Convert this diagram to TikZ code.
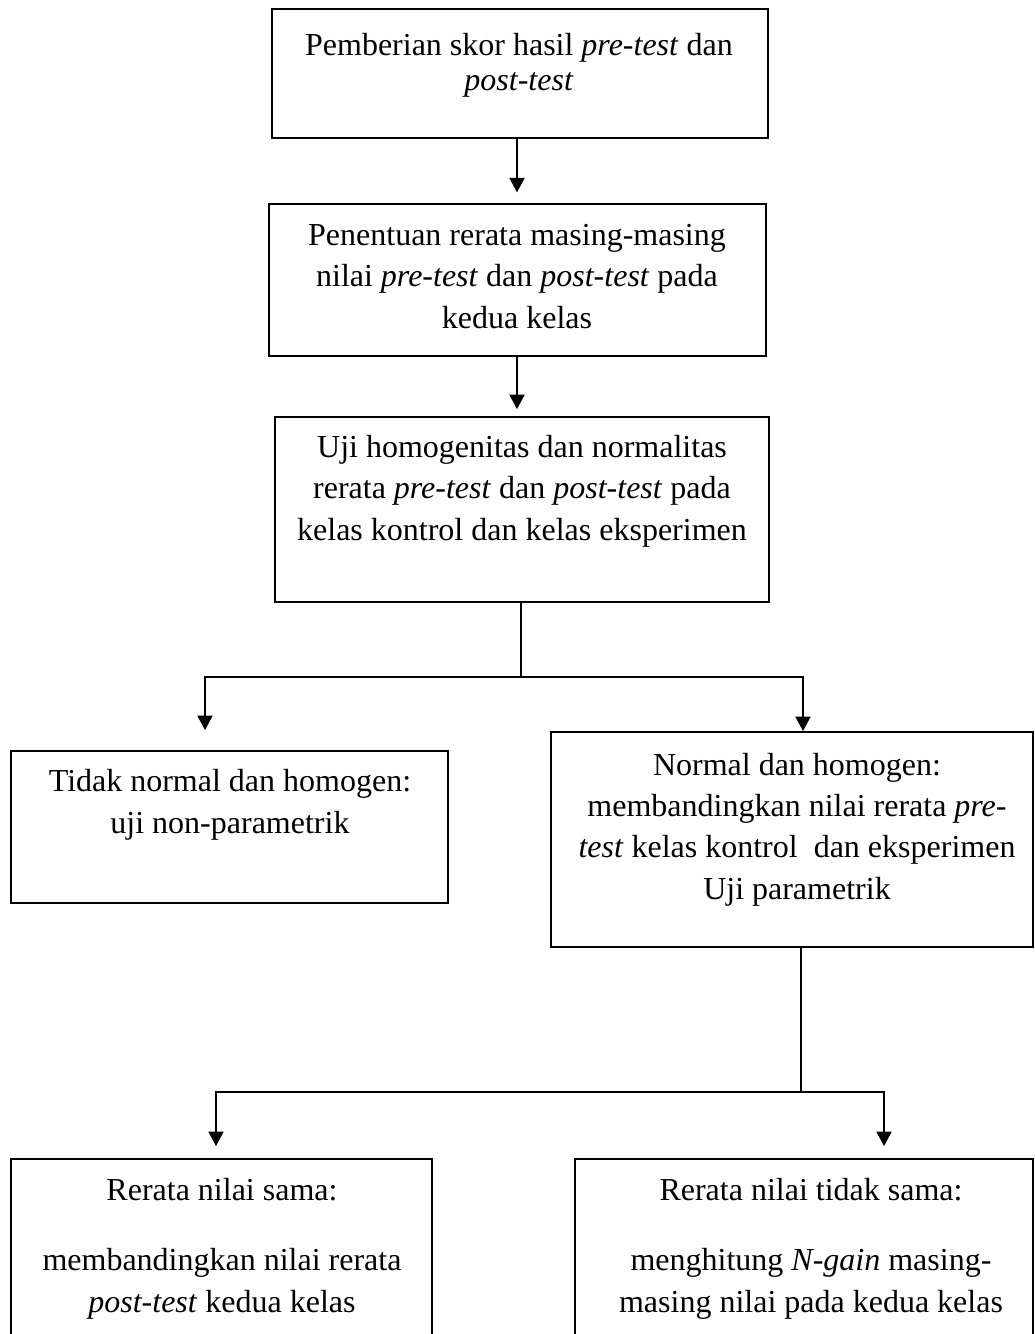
\documentclass[tikz,border=0pt]{standalone}
\usepackage{fontspec}
\setmainfont{Liberation Serif}
\usetikzlibrary{arrows.meta,fit}

\begin{document}
\begin{tikzpicture}[x=0.375pt, y=-0.375pt]
        \tikzset{BoxStyle/.style={draw, line width=0.7pt, inner sep=0pt}}
        \tikzset{TextStyle/.style={align=center, anchor=base, inner sep=0pt,
            font=\fontsize{12}{15.5}\selectfont}}
        \tikzset{EdgeStyle/.style={line width=0.7pt}}
        \tikzset{ArrowStyle/.style={EdgeStyle, -{Triangle[width=5.6pt, length=5.4pt]}}}

        \useasboundingbox (0,0) rectangle (1035,1334);
        \clip (0,0) rectangle (1035,1334);

        \node[BoxStyle, fit={(272,9) (768,138)}] (b1) {};
        \node[BoxStyle, fit={(269,204) (766,356)}] (b2) {};
        \node[BoxStyle, fit={(275,417) (769,602)}] (b3) {};
        \node[BoxStyle, fit={(11,751) (448,903)}] (b4) {};
        \node[BoxStyle, fit={(551,732) (1033,947)}] (b5) {};
        \node[BoxStyle, fit={(11,1159) (432,1360)}] (b6) {};
        \node[BoxStyle, fit={(575,1159) (1033,1360)}] (b7) {};

        \node[TextStyle, font=\fontsize{12}{13.2}\selectfont] (t1) at (519,91)
          {Pemberian skor hasil \textit{pre-test} dan\\\textit{post-test}};
        \node[TextStyle] (t2) at (517,328)
          {Penentuan rerata masing-masing\\nilai \textit{pre-test} dan \textit{post-test} pada\\kedua kelas};
        \node[TextStyle] (t3) at (522,540)
          {Uji homogenitas dan normalitas\\rerata \textit{pre-test} dan \textit{post-test} pada\\kelas kontrol dan kelas eksperimen};
        \node[TextStyle] (t4) at (230,833)
          {Tidak normal dan homogen:\\uji non-parametrik};
        \node[TextStyle] (t5) at (797,899)
          {Normal dan homogen:\\membandingkan nilai rerata \textit{pre-}\\\textit{test} kelas kontrol\ \ dan eksperimen\\Uji parametrik};
        \node[TextStyle] (t6) at (222,1312)
          {Rerata nilai sama:\\[10.9pt]membandingkan nilai rerata\\\textit{post-test} kedua kelas};
        \node[TextStyle] (t7) at (811,1312)
          {Rerata nilai tidak sama:\\[10.9pt]menghitung \textit{N-gain} masing-\\masing nilai pada kedua kelas};

        \coordinate (j1) at (521,677);
        \coordinate (j1l) at (205,677);
        \coordinate (j1r) at (803,677);
        \coordinate (j2) at (801,1092);
        \coordinate (j2l) at (216,1092);
        \coordinate (j2r) at (884,1092);

        \draw[ArrowStyle, shorten >=4pt] (b1.south -| 517,0) -- (b2.north -| 517,0);
        \draw[ArrowStyle, shorten >=2.6pt] (b2.south -| 517,0) -- (b3.north -| 517,0);

        \draw[EdgeStyle] (b3.south -| j1) -- (j1);
        \draw[ArrowStyle, shorten >=7.5pt] (j1) -- (j1l) -- (j1l |- b4.north);
        \draw[ArrowStyle] (j1) -- (j1r) -- (j1r |- b5.north);

        \draw[EdgeStyle] (b5.south -| j2) -- (j2);
        \draw[ArrowStyle, shorten >=4.5pt] (j2) -- (j2l) -- (j2l |- b6.north);
        \draw[ArrowStyle, shorten >=4.5pt] (j2) -- (j2r) -- (j2r |- b7.north);
      \end{tikzpicture}
\end{document}
